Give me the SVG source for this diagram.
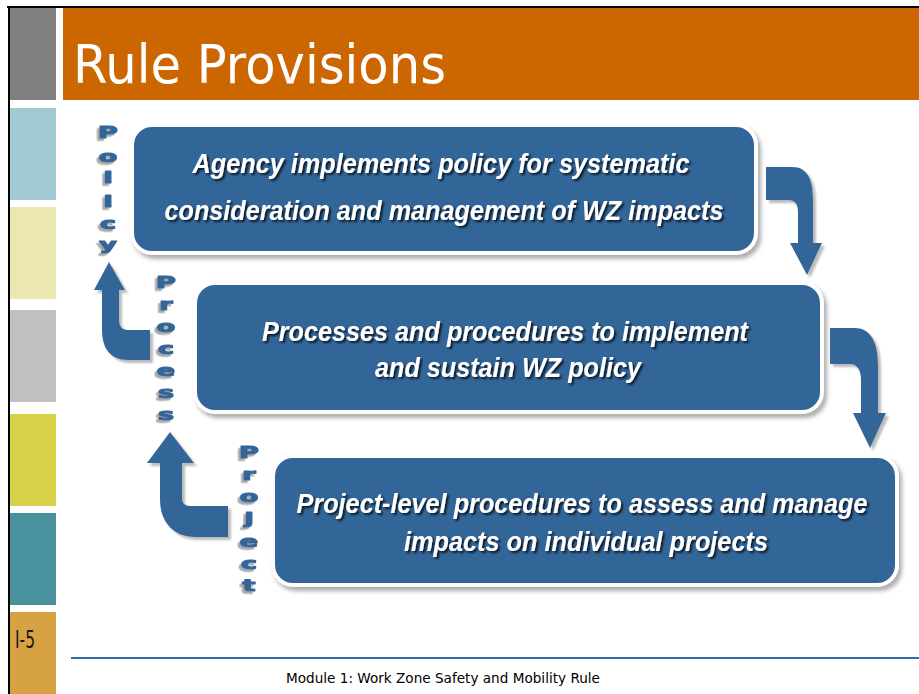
<svg xmlns="http://www.w3.org/2000/svg" width="919" height="694" viewBox="0 0 919 694">
<defs>
<style>
.strip{stroke:none}
.box{fill:#336699;stroke:#ffffff;stroke-width:4}
.bt{font-family:"Liberation Sans",Arial,sans-serif;font-weight:bold;font-style:italic;font-size:27px;fill:#ffffff;text-anchor:middle}
.vl{font-family:"DejaVu Sans",sans-serif;font-weight:bold;font-size:15px;fill:#336699;stroke:#336699;stroke-width:1.1;stroke-linejoin:round;text-anchor:middle}
.arr{fill:#336699}
</style>
<filter id="bsh" x="-5%" y="-10%" width="115%" height="130%">
<feDropShadow dx="3" dy="4" stdDeviation="2" flood-color="#999999" flood-opacity="0.8"/>
</filter>
<filter id="tsh" x="-5%" y="-20%" width="110%" height="150%">
<feDropShadow dx="2" dy="2" stdDeviation="0.8" flood-color="#000000" flood-opacity="0.75"/>
</filter>
<filter id="lsh" x="-50%" y="-50%" width="200%" height="200%">
<feDropShadow dx="-2.5" dy="2.5" stdDeviation="0.6" flood-color="#aaaaaa" flood-opacity="1"/>
</filter>
<filter id="ash" x="-20%" y="-20%" width="150%" height="150%">
<feDropShadow dx="3" dy="3" stdDeviation="1" flood-color="#bbbbbb" flood-opacity="1"/>
</filter>
</defs>
<rect x="0" y="0" width="919" height="694" fill="#ffffff"/>
<!-- frame -->
<g id="frame">
<rect x="7" y="6" width="912" height="2" fill="#000000"/>
<rect x="8" y="6" width="2" height="688" fill="#000000"/>
<rect class="strip" x="10" y="8" width="46" height="92" fill="#808080"/>
<rect class="strip" x="10" y="108" width="46" height="92" fill="#a2cad3"/>
<rect class="strip" x="10" y="207" width="46" height="92" fill="#eae8ae"/>
<rect class="strip" x="10" y="310" width="46" height="92" fill="#c0c0c0"/>
<rect class="strip" x="10" y="414" width="46" height="92" fill="#d7d14a"/>
<rect class="strip" x="10" y="513" width="46" height="92" fill="#4a919e"/>
<rect class="strip" x="10" y="612" width="46" height="82" fill="#d6a244"/>
<text x="15" y="648" font-family="'DejaVu Sans Condensed','DejaVu Sans',sans-serif" font-size="25" fill="#1a1a1a" textLength="20" lengthAdjust="spacingAndGlyphs">I-5</text>
<rect x="63" y="8" width="856" height="92" fill="#cc6600"/>
<text x="73" y="83" font-family="'DejaVu Sans',sans-serif" font-size="54" fill="#ffffff" textLength="373" lengthAdjust="spacingAndGlyphs">Rule Provisions</text>
<rect x="71" y="657" width="848" height="2" fill="#2e6ea8"/>
<text x="443" y="683" font-family="'DejaVu Sans',sans-serif" font-size="14" fill="#000000" text-anchor="middle" textLength="314" lengthAdjust="spacingAndGlyphs">Module 1: Work Zone Safety and Mobility Rule</text>
</g>
<!-- connectors -->
<g id="connectors" filter="url(#ash)">
<path class="arr" d="M766,167 L792,167 C808,167 813,180 813,200 L813,243 L822,243 L807,275 L790,243 L798,243 L798,212 C798,204 795,200 788,200 L766,200 Z"/>
<path class="arr" d="M830,328 L855,328 C872,328 878,345 878,365 L878,413 L886,413 L870,448 L853,413 L861,413 L861,380 C861,370 857,364 850,364 L830,364 Z"/>
<path class="arr" d="M109,262 L125,290 L119,290 L119,320 C119,326 122,330 128,330 L150,330 L150,360 L128,360 C110,360 102,348 102,330 L102,290 L94,290 Z"/>
<path class="arr" d="M170,432 L194,463 L182,463 L182,498 C182,503 185,506 190,506 L228,506 L228,537 L195,537 C172,537 160,520 160,500 L160,463 L147,463 Z"/>
</g>
<!-- boxes -->
<g id="box1">
<rect class="box" x="132" y="125" width="624" height="128" rx="20" filter="url(#bsh)"/>
<g filter="url(#tsh)">
<text class="bt" x="441" y="173" textLength="497" lengthAdjust="spacingAndGlyphs">Agency implements policy for systematic</text>
<text class="bt" x="444" y="220" textLength="559" lengthAdjust="spacingAndGlyphs">consideration and management of WZ impacts</text>
</g>
</g>
<g id="box2">
<rect class="box" x="195" y="283" width="627" height="129" rx="20" filter="url(#bsh)"/>
<g filter="url(#tsh)">
<text class="bt" x="505" y="341" textLength="486" lengthAdjust="spacingAndGlyphs">Processes and procedures to implement</text>
<text class="bt" x="508" y="377" textLength="266" lengthAdjust="spacingAndGlyphs">and sustain WZ policy</text>
</g>
</g>
<g id="box3">
<rect class="box" x="273" y="456" width="624" height="129" rx="20" filter="url(#bsh)"/>
<g filter="url(#tsh)">
<text class="bt" x="582" y="513" textLength="571" lengthAdjust="spacingAndGlyphs">Project-level procedures to assess and manage</text>
<text class="bt" x="586" y="551" textLength="364" lengthAdjust="spacingAndGlyphs">impacts on individual projects</text>
</g>
</g>
<!-- vertical labels -->
<g id="policy" filter="url(#lsh)">
<text class="vl" transform="translate(108,138) scale(1.8,1)">P</text>
<text class="vl" transform="translate(108,162) scale(1.8,1)">o</text>
<text class="vl" transform="translate(108,183) scale(1.8,1)">l</text>
<text class="vl" transform="translate(108,207) scale(1.8,1)">i</text>
<text class="vl" transform="translate(108,229) scale(1.8,1)">c</text>
<text class="vl" transform="translate(108,250) scale(1.8,1)">y</text>
</g>
<g id="process" filter="url(#lsh)">
<text class="vl" transform="translate(166,288) scale(1.8,1)">P</text>
<text class="vl" transform="translate(166,310) scale(1.8,1)">r</text>
<text class="vl" transform="translate(166,332) scale(1.8,1)">o</text>
<text class="vl" transform="translate(166,354) scale(1.8,1)">c</text>
<text class="vl" transform="translate(166,376) scale(1.8,1)">e</text>
<text class="vl" transform="translate(166,398) scale(1.8,1)">s</text>
<text class="vl" transform="translate(166,420) scale(1.8,1)">s</text>
</g>
<g id="project" filter="url(#lsh)">
<text class="vl" transform="translate(249,458) scale(1.8,1)">P</text>
<text class="vl" transform="translate(249,480) scale(1.8,1)">r</text>
<text class="vl" transform="translate(249,502) scale(1.8,1)">o</text>
<text class="vl" transform="translate(249,524) scale(1.8,1)">j</text>
<text class="vl" transform="translate(249,547) scale(1.8,1)">e</text>
<text class="vl" transform="translate(249,569) scale(1.8,1)">c</text>
<text class="vl" transform="translate(249,591) scale(1.8,1)">t</text>
</g>
</svg>
